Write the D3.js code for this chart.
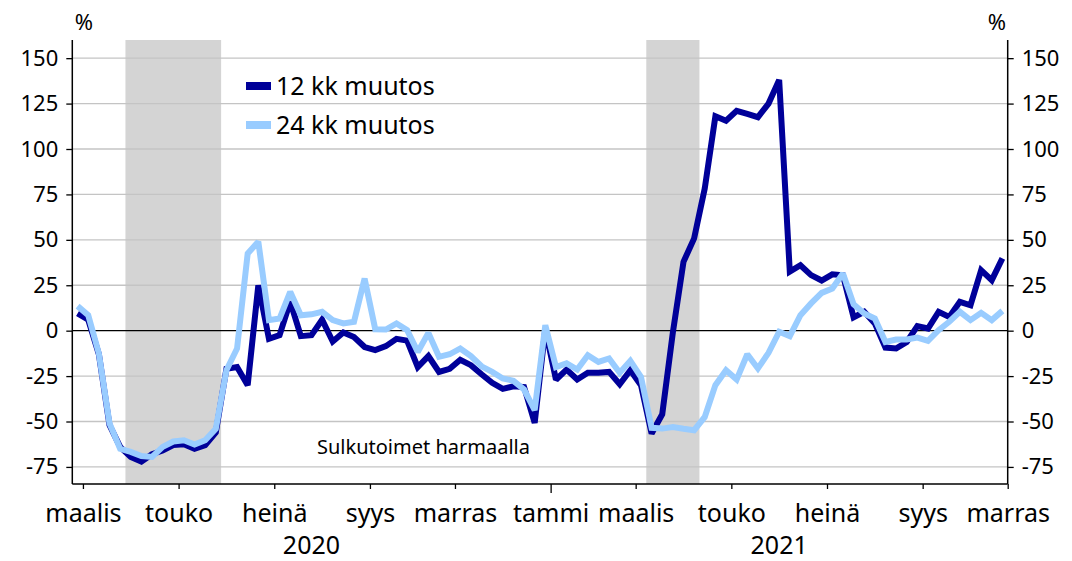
<!DOCTYPE html>
<html>
<head>
<meta charset="utf-8">
<script src="https://cdn.jsdelivr.net/npm/d3@7"></script>
<style>
  body { margin: 0; background: #fff; }
  text { font-family: "Noto Sans", sans-serif; fill: #000; }
</style>
</head>
<body>
<svg id="chart" width="1072" height="561"></svg>
<script>
// weekly values, first week of March 2020 -> early November 2021
var muutos12 = [9.5, 6, -13, -52, -64, -69.5, -72, -68, -66, -63, -62.5, -65, -63, -56,
  -21, -20, -30, 25, -4.5, -2.5, 16, -3, -2.5, 6, -6, -1, -3.5, -9, -10.7, -8.5,
  -4.5, -5.5, -20, -14, -22.7, -21, -16, -19, -24, -28.7, -32, -30.6, -31, -50.8,
  1, -27, -21.4, -26.9, -23.2, -23.2, -22.7, -29.5, -21.8, -30, -56.6, -46, -1,
  37.9, 50.8, 78.3, 118, 115.6, 121, 119.3, 117.5, 125, 138, 32.5, 36, 30.6, 27.6,
  31, 30.5, 7.3, 10.4, 4, -9.3, -9.8, -6.2, 2.5, 1.2, 10.4, 7.6, 15.9, 14, 33.3, 27.8, 39.8];
var muutos24 = [13.5, 8.5, -12.6, -51, -65, -66.7, -69, -69.5, -64, -61, -60.3, -62.7, -60.3, -54,
  -21.8, -9.8, 42.5, 49, 5.8, 6.7, 21.4, 8.5, 9, 10.4, 5.8, 4, 4.9, 28.7, 0.8, 0.6,
  4, 0.3, -11.7, -1.2, -14.4, -13, -9.8, -14, -19.6, -22.7, -26.3, -27.6, -32.4, -43.8,
  3, -20, -18, -21.4, -13.5, -17.2, -15.3, -23.2, -16.6, -25.5, -53.5, -53.9, -53,
  -54, -54.8, -47.5, -30, -21.8, -26.9, -13, -20.8, -12.2, -0.6, -3, 8.5, 15, 20.8,
  23.2, 31.5, 14.6, 9.5, 6.7, -6.2, -4.9, -4.9, -3.8, -5.6, 0.3, 4.9, 10.4, 5.8, 9.8, 5.8, 10.9];

var monthTicks = [1, 10, 19, 28, 36, 45, 53, 62, 71, 80, 88];
var monthLabels = ["maalis", "touko", "heinä", "syys", "marras", "tammi", "maalis", "touko", "heinä", "syys", "marras"];
var yearBreak = 45;
var years = [{label: "2020", from: 0, to: 45}, {label: "2021", from: 45, to: 88}];
var lockdowns = [[5, 14], [54, 59]];
var yTicks = [-75, -50, -25, 0, 25, 50, 75, 100, 125, 150];
var seriesNames = ["12 kk muutos", "24 kk muutos"];
var colors = ["#000099", "#99ccff"];

var svg = d3.select("#chart");
var pLeft = 72.3, pRight = 1007.7, pTop = 40, pBottom = 484;

var x = d3.scaleLinear().domain([0, muutos12.length]).range([pLeft, pRight]);
var y = d3.scaleLinear().domain([-84.4, 160]).range([pBottom, pTop]);

// lockdown shading
svg.selectAll(".band")
    .data(lockdowns)
  .enter().append("rect")
    .attr("x", function(d) { return x(d[0]); })
    .attr("width", function(d) { return x(d[1]) - x(d[0]); })
    .attr("y", pTop)
    .attr("height", pBottom - pTop)
    .style("fill", "#d4d4d4");

// grid
svg.selectAll(".grid")
    .data(yTicks.filter(function(v) { return v !== 0; }))
  .enter().append("line")
    .attr("x1", pLeft).attr("x2", pRight)
    .attr("y1", function(d) { return y(d); })
    .attr("y2", function(d) { return y(d); })
    .style("stroke", "#c4c4c4")
    .style("stroke-width", 1.3);

svg.append("line")
    .attr("x1", pLeft).attr("x2", pRight)
    .attr("y1", y(0)).attr("y2", y(0))
    .style("stroke", "#000").style("stroke-width", 1.3);

// y axes
var fmt = function(d) { return d < 0 ? "-" + Math.abs(d) : d; };
var yLeft = svg.append("g")
    .attr("transform", "translate(" + pLeft + ",0)")
    .call(d3.axisLeft(y).tickValues(yTicks).tickSize(6).tickPadding(8).tickFormat(fmt));
var yRight = svg.append("g")
    .attr("transform", "translate(" + pRight + ",0)")
    .call(d3.axisRight(y).tickValues(yTicks).tickSize(6).tickPadding(8).tickFormat(fmt));
[yLeft, yRight].forEach(function(g) {
  g.attr("font-family", null).attr("font-size", null);
  g.select(".domain").attr("d", "M0," + pTop + "V" + pBottom).style("stroke-width", 1.5);
  g.selectAll(".tick line").style("stroke-width", 1.3);
  g.selectAll("text").style("font-size", "22px");
});

// x axis
var xAxis = svg.append("g")
    .attr("transform", "translate(0," + pBottom + ")")
    .call(d3.axisBottom(x).tickValues(monthTicks).tickSize(5).tickPadding(15)
      .tickFormat(function(d, i) { return monthLabels[i]; }));
xAxis.attr("font-family", null).attr("font-size", null);
xAxis.select(".domain").attr("d", "M" + pLeft + ",0H" + pRight).style("stroke-width", 1.5);
xAxis.selectAll(".tick line").style("stroke-width", 1.3)
    .attr("y2", function(d) { return d === yearBreak ? 9 : 5; });
xAxis.selectAll("text").style("font-size", "25px");

svg.selectAll(".year")
    .data(years)
  .enter().append("text")
    .attr("x", function(d) { return (x(d.from) + x(d.to)) / 2; })
    .attr("y", 554)
    .attr("text-anchor", "middle")
    .style("font-size", "25px")
    .text(function(d) { return d.label; });

svg.append("text").attr("x", 84).attr("y", 30).attr("text-anchor", "middle")
    .style("font-size", "22px").text("%");
svg.append("text").attr("x", 997).attr("y", 30).attr("text-anchor", "middle")
    .style("font-size", "22px").text("%");

// lines
var line = d3.line()
    .x(function(d, i) { return x(i + 0.5); })
    .y(function(d) { return y(d); });

[muutos12, muutos24].forEach(function(s, k) {
  svg.append("path")
      .datum(s)
      .attr("d", line)
      .style("fill", "none")
      .style("stroke", colors[k])
      .style("stroke-width", 6)
      .style("stroke-linejoin", "miter")
      .style("stroke-miterlimit", 2);
});

// legend
var legend = svg.selectAll(".legend")
    .data(seriesNames)
  .enter().append("g")
    .attr("transform", function(d, i) { return "translate(246," + (86 + i * 39) + ")"; });
legend.append("rect")
    .attr("x", 0).attr("y", -4)
    .attr("width", 25).attr("height", 8)
    .style("fill", function(d, i) { return colors[i]; });
legend.append("text")
    .attr("x", 30).attr("y", 9)
    .style("font-size", "25px")
    .text(function(d) { return d; });

svg.append("text")
    .attr("x", 317).attr("y", 454)
    .style("font-size", "20px")
    .text("Sulkutoimet harmaalla");
</script>
</body>
</html>
